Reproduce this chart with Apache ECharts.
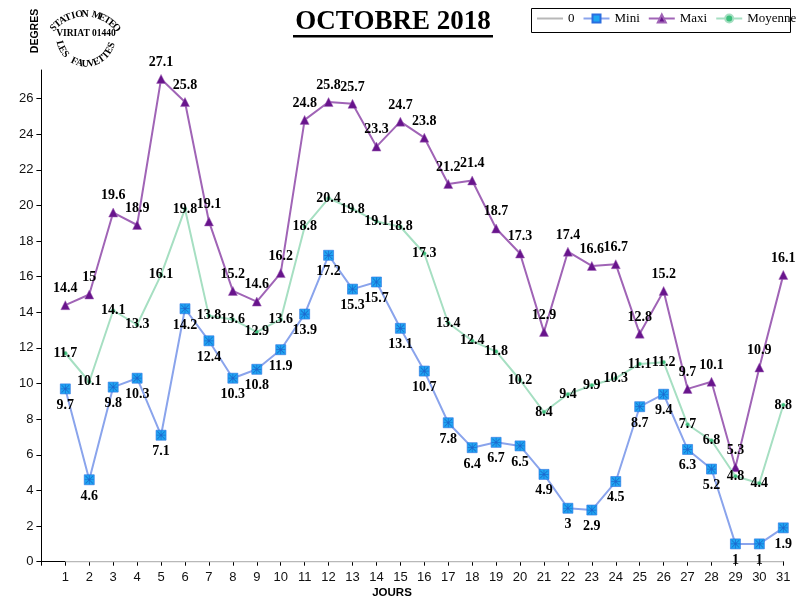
<!DOCTYPE html>
<html><head><meta charset="utf-8">
<script src="https://cdn.jsdelivr.net/npm/echarts@6/dist/echarts.min.js"></script>
<style>html,body{margin:0;padding:0;background:#fff}#c{width:801px;height:606px}</style>
</head><body><div id="c"></div>
<script>
const days = [1,2,3,4,5,6,7,8,9,10,11,12,13,14,15,16,17,18,19,20,21,22,23,24,25,26,27,28,29,30,31];
const mini = [9.7,4.6,9.8,10.3,7.1,14.2,12.4,10.3,10.8,11.9,13.9,17.2,15.3,15.7,13.1,10.7,7.8,6.4,6.7,6.5,4.9,3,2.9,4.5,8.7,9.4,6.3,5.2,1,1,1.9];
const maxi = [14.4,15,19.6,18.9,27.1,25.8,19.1,15.2,14.6,16.2,24.8,25.8,25.7,23.3,24.7,23.8,21.2,21.4,18.7,17.3,12.9,17.4,16.6,16.7,12.8,15.2,9.7,10.1,5.3,10.9,16.1];
const moyenne = [11.7,10.1,14.1,13.3,16.1,19.8,13.8,13.6,12.9,13.6,18.8,20.4,19.8,19.1,18.8,17.3,13.4,12.4,11.8,10.2,8.4,9.4,9.9,10.3,11.1,11.2,7.7,6.8,4.8,4.4,8.8];
const zero = days.map(() => 0);
const yTicks = [0,2,4,6,8,10,12,14,16,18,20,22,24,26];
const xTicks = [0].concat(days);
const seriesNames = ['0','Mini','Maxi','Moyenne'];

const pair = arr => days.map((d, i) => [d, arr[i]]);
const labelFont = {fontFamily: 'Liberation Serif', fontWeight: 'bold', fontSize: 14, color: '#000'};

function arcText(str, cx, cy, r, a0, a1, top, font) {
  const n = str.length, out = [];
  for (let i = 0; i < n; i++) {
    const th = a0 + (a1 - a0) * i / (n - 1);
    const rad = th * Math.PI / 180;
    const rot = top ? -(th + 90) * Math.PI / 180 : -(th - 90) * Math.PI / 180;
    out.push({type: 'text', x: cx + r * Math.cos(rad), y: cy + r * Math.sin(rad), rotation: rot,
      style: {text: str[i], font: font, fill: '#000', align: 'center', verticalAlign: 'middle', textAlign: 'center', textVerticalAlign: 'middle'}});
  }
  return out;
}
const logoFont = 'bold 10px "Liberation Serif"';
const graphics = [
  {type: 'text', x: 393, y: 22, style: {text: 'OCTOBRE 2018', font: 'bold 27px "Liberation Serif"', fill: '#000', align: 'center', verticalAlign: 'middle', textAlign: 'center', textVerticalAlign: 'middle'}},
  {type: 'rect', shape: {x: 293, y: 35, width: 200, height: 2.5}, style: {fill: '#000'}},
  {type: 'rect', shape: {x: 531.5, y: 8.5, width: 259, height: 24}, style: {fill: 'none', stroke: '#000', lineWidth: 1}, z: 0},
  {type: 'text', x: 392, y: 593, style: {text: 'JOURS', font: 'bold 11.5px "Liberation Sans"', fill: '#000', align: 'center', verticalAlign: 'middle', textAlign: 'center', textVerticalAlign: 'middle'}},
  {type: 'text', x: 35, y: 31, rotation: Math.PI / 2, style: {text: 'DEGRES', font: 'bold 10.5px "Liberation Sans"', fill: '#000', align: 'center', verticalAlign: 'middle', textAlign: 'center', textVerticalAlign: 'middle'}},
  {type: 'text', x: 86, y: 34, style: {text: 'VIRIAT 01440', font: 'bold 9.5px "Liberation Serif"', fill: '#000', align: 'center', verticalAlign: 'middle', textAlign: 'center', textVerticalAlign: 'middle'}}
].concat(arcText('STATION METEO', 85, 56, 42, -138, -42, true, logoFont))
 .concat(arcText('LES FAUVETTES', 86, 37, 27, 165, 18, false, logoFont));

const chart = echarts.init(document.getElementById('c'), null, {renderer: 'canvas'});
chart.setOption({
  animation: false,
  backgroundColor: '#fff',
  grid: {left: 41.4, right: 17.7, top: 70, bottom: 44.3, containLabel: false},
  legend: {
    data: [{name: '0', itemStyle: {opacity: 0}}, 'Mini', 'Maxi', 'Moyenne'], left: 536, top: 12, itemWidth: 26, itemHeight: 10, itemGap: 8, padding: 0,
    textStyle: {fontFamily: 'Liberation Serif', fontSize: 13, color: '#000'}
  },
  xAxis: {
    type: 'value', min: 0, max: 31, interval: 1,
    axisLine: {show: true, lineStyle: {color: '#000', width: 1}},
    axisTick: {show: true, length: 4, lineStyle: {color: '#000'}, customValues: xTicks},
    axisLabel: {customValues: days, margin: 9, fontFamily: 'Liberation Sans', fontSize: 13, color: '#111'},
    splitLine: {show: false}
  },
  yAxis: {
    type: 'value', min: 0, max: 27.6, interval: 2,
    axisLine: {show: true, lineStyle: {color: '#000', width: 1}},
    axisTick: {show: true, length: 5, lineStyle: {color: '#000'}, customValues: yTicks},
    axisLabel: {customValues: yTicks, margin: 8, fontFamily: 'Liberation Sans', fontSize: 13, color: '#111'},
    splitLine: {show: false}
  },
  graphic: graphics,
  series: [
    {name: '0', type: 'line', data: pair(zero), symbol: 'none', lineStyle: {color: '#b8b8b8', width: 1.5}, itemStyle: {color: '#b8b8b8'}, z: 2},
    {name: 'Mini', type: 'line', data: pair(mini), symbol: 'rect', symbolSize: 10,
      lineStyle: {color: '#8aa4ec', width: 2}, itemStyle: {color: '#1fa6f2', borderColor: '#2a6ee0', borderWidth: 0.6},
      label: Object.assign({show: true, position: 'bottom', distance: 4}, labelFont), z: 3},
    {name: 'MiniStar', type: 'scatter', data: pair(mini), silent: true, symbolSize: 9,
      symbol: 'path://M0,4.6 L10,4.6 L10,5.4 L0,5.4 Z M4.6,0 L5.4,0 L5.4,10 L4.6,10 Z M0.6,1.2 L1.2,0.6 L9.4,8.8 L8.8,9.4 Z M8.8,0.6 L9.4,1.2 L1.2,9.4 L0.6,8.8 Z',
      itemStyle: {color: '#1c5fc8', opacity: 0.85}, z: 3},
    {name: 'Maxi', type: 'line', data: pair(maxi), symbol: 'triangle', symbolSize: 9,
      lineStyle: {color: '#a064b6', width: 2}, itemStyle: {color: '#68148c', borderColor: '#a064b6', borderWidth: 0.5},
      label: Object.assign({show: true, position: 'top', distance: 5}, labelFont), z: 4},
    {name: 'Moyenne', type: 'line', data: pair(moyenne), symbol: 'circle', symbolSize: 4,
      lineStyle: {color: '#a6dfc2', width: 2}, itemStyle: {color: '#3cbf7c', borderColor: '#a6dfc2', borderWidth: 0.5},
      label: Object.assign({show: true, position: 'inside', offset: [0, 0]}, labelFont), z: 5}
  ]
});
</script>
</body></html>
